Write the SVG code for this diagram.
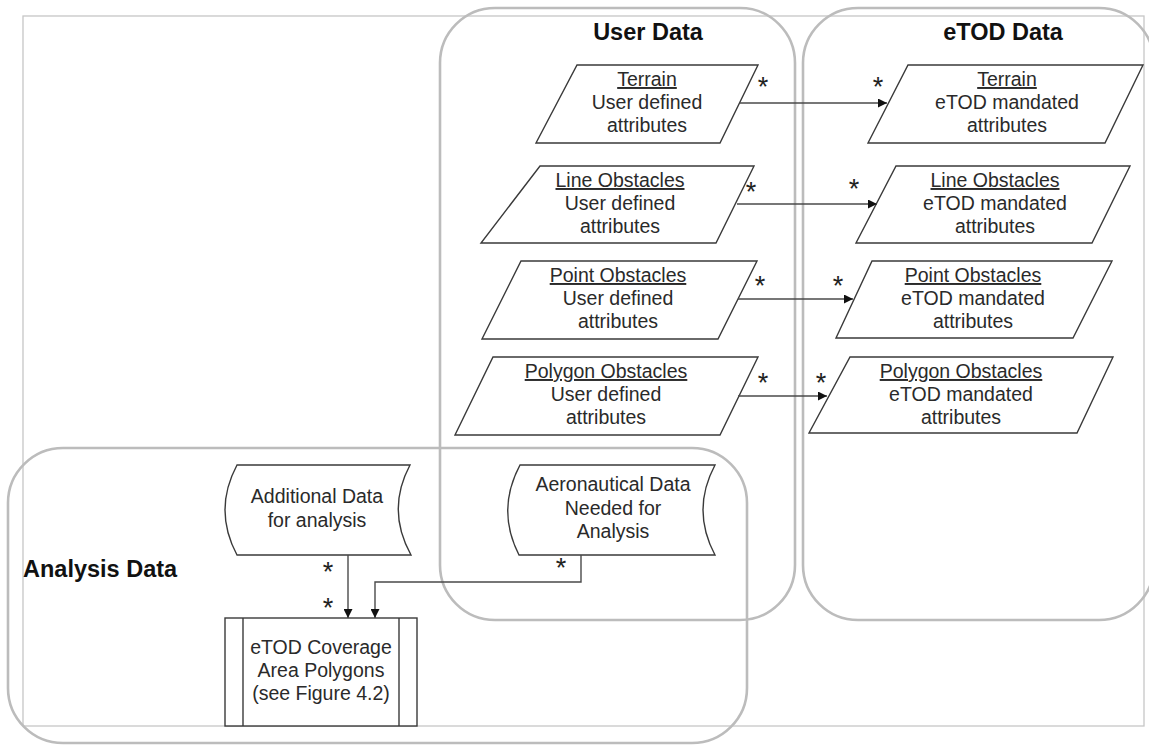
<svg xmlns="http://www.w3.org/2000/svg" width="1149" height="745" viewBox="0 0 1149 745">
  <style>
    .frame { fill: none; stroke: #c6c6c6; stroke-width: 1.3; }
    .zone { fill: none; stroke: #bcbcbc; stroke-width: 2.6; }
    .shape { fill: #ffffff; stroke: #3a3a3a; stroke-width: 1.4; }
    .link { fill: none; stroke: #4a4a4a; stroke-width: 1.4; }
    .title { font-family: "Liberation Sans", Arial, sans-serif; font-size: 23.5px; font-weight: bold; fill: #111; }
    .lbl { font-family: "Liberation Sans", Arial, sans-serif; font-size: 19.5px; fill: #2a2a2a; text-anchor: middle; }
    .head { text-decoration: underline; }
    .mult { font-family: "Liberation Sans", Arial, sans-serif; font-size: 27px; fill: #222; text-anchor: middle; }
  </style>
  <defs>
    <marker id="arrow" viewBox="0 0 10 10" refX="10" refY="5" markerWidth="10" markerHeight="9" markerUnits="userSpaceOnUse" orient="auto">
      <path d="M0,0 L10,5 L0,10 Z" fill="#111"/>
    </marker>
  </defs>

  <rect width="1149" height="745" fill="#ffffff"/>
  <rect class="frame" x="23" y="16" width="1121" height="710"/>

  <!-- grouping regions -->
  <g id="user-data-zone">
    <rect class="zone" x="440" y="8" width="355" height="612" rx="55"/>
    <text class="title" x="648" y="40" text-anchor="middle">User Data</text>
  </g>
  <g id="etod-data-zone">
    <rect class="zone" x="803" y="8" width="351" height="612" rx="55"/>
    <text class="title" x="1003" y="40" text-anchor="middle">eTOD Data</text>
  </g>
  <g id="analysis-data-zone">
    <rect class="zone" x="8" y="448" width="739" height="295" rx="55"/>
    <text class="title" x="23" y="577">Analysis Data</text>
  </g>

  <!-- user data sets -->
  <g id="user-terrain">
    <polygon class="shape" points="577,65 758,65 720,143 536,143"/>
    <text class="lbl" x="647" y="86"><tspan class="head">Terrain</tspan><tspan x="647" dy="23">User defined</tspan><tspan x="647" dy="23">attributes</tspan></text>
  </g>
  <g id="user-line-obstacles">
    <polygon class="shape" points="540,166 754,166 716,243 481,243"/>
    <text class="lbl" x="620" y="187"><tspan class="head">Line Obstacles</tspan><tspan x="620" dy="23">User defined</tspan><tspan x="620" dy="23">attributes</tspan></text>
  </g>
  <g id="user-point-obstacles">
    <polygon class="shape" points="521,261 757,261 718,339 482,339"/>
    <text class="lbl" x="618" y="282"><tspan class="head">Point Obstacles</tspan><tspan x="618" dy="23">User defined</tspan><tspan x="618" dy="23">attributes</tspan></text>
  </g>
  <g id="user-polygon-obstacles">
    <polygon class="shape" points="493,357 758,357 720,435 455,435"/>
    <text class="lbl" x="606" y="378"><tspan class="head">Polygon Obstacles</tspan><tspan x="606" dy="23">User defined</tspan><tspan x="606" dy="23">attributes</tspan></text>
  </g>

  <!-- eTOD data sets -->
  <g id="etod-terrain">
    <polygon class="shape" points="908,65 1143,65 1105,143 868,143"/>
    <text class="lbl" x="1007" y="86"><tspan class="head">Terrain</tspan><tspan x="1007" dy="23">eTOD mandated</tspan><tspan x="1007" dy="23">attributes</tspan></text>
  </g>
  <g id="etod-line-obstacles">
    <polygon class="shape" points="896,166 1130,166 1092,243 856,243"/>
    <text class="lbl" x="995" y="187"><tspan class="head">Line Obstacles</tspan><tspan x="995" dy="23">eTOD mandated</tspan><tspan x="995" dy="23">attributes</tspan></text>
  </g>
  <g id="etod-point-obstacles">
    <polygon class="shape" points="872,261 1112,261 1073,338 836,338"/>
    <text class="lbl" x="973" y="282"><tspan class="head">Point Obstacles</tspan><tspan x="973" dy="23">eTOD mandated</tspan><tspan x="973" dy="23">attributes</tspan></text>
  </g>
  <g id="etod-polygon-obstacles">
    <polygon class="shape" points="850,357 1113,357 1077,433 809,433"/>
    <text class="lbl" x="961" y="378"><tspan class="head">Polygon Obstacles</tspan><tspan x="961" dy="23">eTOD mandated</tspan><tspan x="961" dy="23">attributes</tspan></text>
  </g>

  <!-- analysis inputs and output -->
  <g id="additional-data">
    <path class="shape" d="M237,465 L410,465 Q386,510 411,555 L237,555 Q213,510 237,465 Z"/>
    <text class="lbl" x="317" y="503"><tspan>Additional Data</tspan><tspan x="317" dy="24">for analysis</tspan></text>
  </g>
  <g id="aeronautical-data">
    <path class="shape" d="M520,465 L715,465 Q691,510 715,555 L519,555 Q496,510 520,465 Z"/>
    <text class="lbl" x="613" y="491"><tspan>Aeronautical Data</tspan><tspan x="613" dy="24">Needed for</tspan><tspan x="613" dy="23">Analysis</tspan></text>
  </g>
  <g id="coverage-polygons">
    <rect class="shape" x="225" y="618" width="192" height="108"/>
    <line class="shape" x1="243" y1="618" x2="243" y2="726"/>
    <line class="shape" x1="399" y1="618" x2="399" y2="726"/>
    <text class="lbl" x="321" y="654"><tspan>eTOD Coverage</tspan><tspan x="321" dy="23">Area Polygons</tspan><tspan x="321" dy="23">(see Figure 4.2)</tspan></text>
  </g>

  <!-- connectors with multiplicities -->
  <g id="connectors">
    <line class="link" x1="740" y1="103" x2="887" y2="103" marker-end="url(#arrow)"/>
    <line class="link" x1="737" y1="204" x2="877" y2="204" marker-end="url(#arrow)"/>
    <line class="link" x1="738" y1="299" x2="853" y2="299" marker-end="url(#arrow)"/>
    <line class="link" x1="738" y1="396" x2="827" y2="396" marker-end="url(#arrow)"/>
    <line class="link" x1="348" y1="555" x2="348" y2="618" marker-end="url(#arrow)"/>
    <polyline class="link" points="581,555 581,582 375,582 375,618" marker-end="url(#arrow)"/>

    <text class="mult" x="763" y="96">*</text>
    <text class="mult" x="878" y="96">*</text>
    <text class="mult" x="751" y="201">*</text>
    <text class="mult" x="854" y="198">*</text>
    <text class="mult" x="760" y="295">*</text>
    <text class="mult" x="838" y="295">*</text>
    <text class="mult" x="763" y="392">*</text>
    <text class="mult" x="821" y="392">*</text>
    <text class="mult" x="328" y="581">*</text>
    <text class="mult" x="328" y="617">*</text>
    <text class="mult" x="561" y="577">*</text>
  </g>
</svg>
